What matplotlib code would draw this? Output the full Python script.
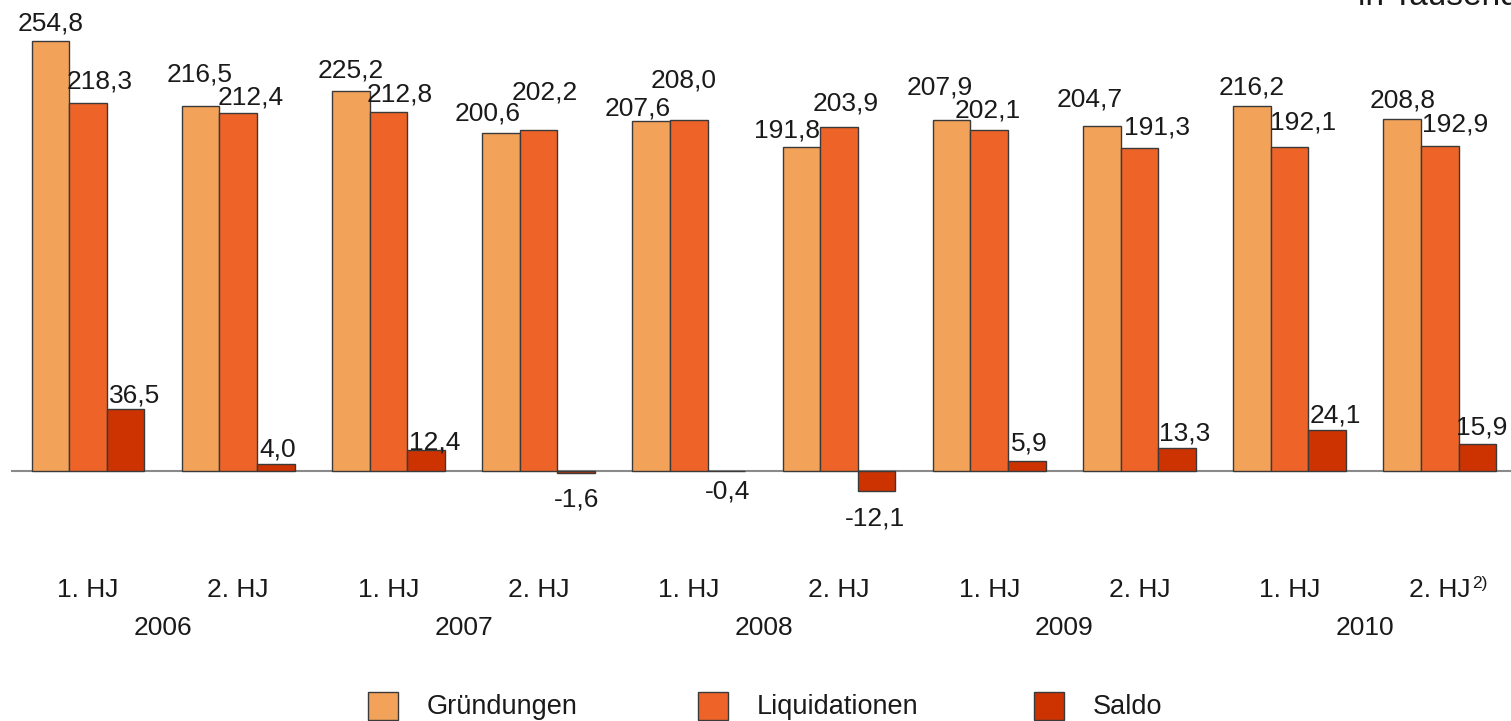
import numpy as np
import matplotlib.pyplot as plt
from matplotlib.patches import Rectangle

plt.rcParams['font.family'] = ['Liberation Sans', 'DejaVu Sans']

# Werte in Tausend
halbjahre = ['1. HJ', '2. HJ'] * 5
jahre = ['2006', '2007', '2008', '2009', '2010']
gruendungen = [254.8, 216.5, 225.2, 200.6, 207.6, 191.8, 207.9, 204.7, 216.2, 208.8]
liquidationen = [218.3, 212.4, 212.8, 202.2, 208.0, 203.9, 202.1, 191.3, 192.1, 192.9]
saldo = [36.5, 4.0, 12.4, -1.6, -0.4, -12.1, 5.9, 13.3, 24.1, 15.9]

namen = ['Gründungen', 'Liquidationen', 'Saldo']
farben = ['#F3A25A', '#EE6428', '#CC3300']
kante = '#3a3a3a'

# label nudges in pixels (dx, dy of text baseline from bar end)
g_dx = [0, -1, 0, -13, -14, -14, -12, -12, 0, 0]
g_dy = [11, 24, 14, 12, 5, 10, 26, 19, 12, 11]
l_dx = [12, 12, 11, 6, -5, 7, -2, 18, 13, 15]
l_dy = [14, 8, 11, 30, 33, 17, 13, 14, 17, 14]
s_dx = [9, 2, 9, 0, 1, -2, 3, 8, 8, 4]
s_dy = [7, 7, 0, -33, -27, -35, 10, 8, 7, 9]

W, H = 1511, 721
fig = plt.figure(figsize=(W / 100, H / 100), dpi=100)
ax = fig.add_axes([0, 0, 1, 1])
ax.axis('off')

px_per_unit = 1.685
base_px = 470.6
grp_px = 150.2
first_px = 88.0
ax.set_xlim(-first_px / grp_px, (W - first_px) / grp_px)
ax.set_ylim(-(H - base_px) / px_per_unit, base_px / px_per_unit)

x = np.arange(len(gruendungen))
w = 0.25

serien = [gruendungen, liquidationen, saldo]
versatz = [-w, 0, w]
nudges = [(g_dx, g_dy), (l_dx, l_dy), (s_dx, s_dy)]

ax.axhline(0, xmin=12 / W, xmax=1, color='#8a8a8a', lw=1.5, zorder=1)

def fmt(v):
    return f'{v:.1f}'.replace('.', ',')

for werte, off, farbe, (dxs, dys) in zip(serien, versatz, farben, nudges):
    ax.bar(x + off, werte, width=w, color=farbe, edgecolor=kante, linewidth=1.0, zorder=2)
    for xi, v, dx, dy in zip(x + off, werte, dxs, dys):
        ax.annotate(fmt(v), xy=(xi, v), xytext=(dx, dy), textcoords='offset pixels',
                    ha='center', va='baseline', fontsize=19, color='#1a1a1a')

# category labels
tr = ax.get_xaxis_transform()
for xi, lab in zip(x, halbjahre):
    ax.text(xi, 1 - 597 / H, lab, transform=tr, ha='center', va='baseline',
            fontsize=19, color='#1a1a1a')
for j, jahr in enumerate(jahre):
    ax.text(2 * j + 0.5, 1 - 635 / H, jahr, transform=tr, ha='center', va='baseline',
            fontsize=19, color='#1a1a1a')
# footnote mark on the last half year
ax.annotate('2)', xy=(x[-1], 1 - 597 / H), xycoords=tr, xytext=(32, 9),
            textcoords='offset pixels', ha='left', va='baseline', fontsize=12.5,
            color='#1a1a1a')

# unit note, cut at the top edge as in the source
fig.text(1358 / W, 1 - 5 / H, 'in Tausend', ha='left', va='baseline',
         fontsize=24, color='#1a1a1a')

# legend
patch_x = [368, 698, 1034]
text_x = [427, 757, 1093]
for px, tx, name, farbe in zip(patch_x, text_x, namen, farben):
    fig.patches.append(Rectangle((px / W, 1 - 720 / H), 30 / W, 28 / H,
                                 transform=fig.transFigure, facecolor=farbe,
                                 edgecolor=kante, linewidth=1.0))
    fig.text(tx / W, 1 - 714 / H, name, ha='left', va='baseline',
             fontsize=19.5, color='#1a1a1a')

plt.savefig('out.png', dpi=100)
